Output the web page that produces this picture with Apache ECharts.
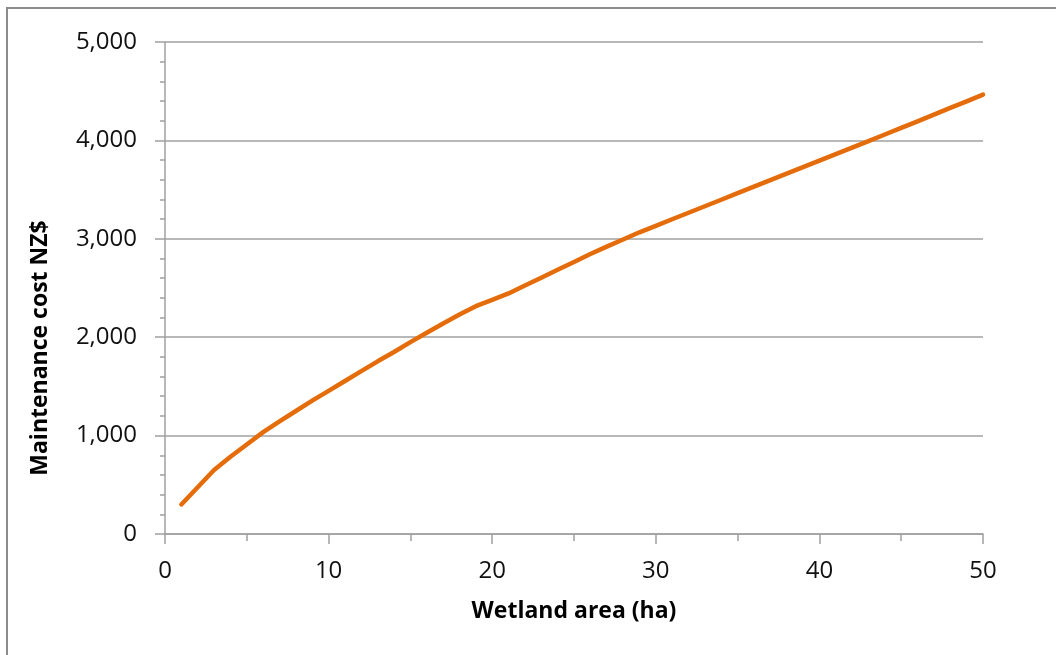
<!DOCTYPE html>
<html>
<head>
<meta charset="utf-8">
<script src="https://cdn.jsdelivr.net/npm/echarts@6/dist/echarts.min.js"></script>
<style>
html,body{margin:0;padding:0;background:#fff;}
#chart{width:1056px;height:655px;}
</style>
</head>
<body>
<div id="chart"></div>
<script>
const areaHa = [1,2,3,4,5,6,7,8,9,10,11,12,13,14,15,16,17,18,19,20,21,22,23,24,25,26,27,28,29,30,31,32,33,34,35,36,37,38,39,40,41,42,43,44,45,46,47,48,49,50];
const costNZD = [300,475,650,785,910,1035,1145,1250,1355,1455,1555,1655,1755,1850,1950,2045,2140,2230,2315,2380,2445,2525,2605,2685,2765,2845,2920,2993,3066,3132,3199,3265,3331,3397,3464,3530,3596,3662,3728,3795,3861,3927,3993,4060,4127,4194,4262,4330,4397,4465];
const xTitle = 'Wetland area (ha)';
const yTitle = 'Maintenance cost NZ$';

const chart = echarts.init(document.getElementById('chart'), null, {renderer:'canvas'});
const grey = '#A0A0A0';
const font = 'Open Sans';
chart.setOption({
  animation:false,
  backgroundColor:'#ffffff',
  grid:{left:165, right:73, top:42, bottom:121, containLabel:false},
  xAxis:{
    type:'value', min:0, max:50, interval:10,
    name:xTitle, nameLocation:'middle', nameGap:66,
    nameTextStyle:{fontFamily:font, fontWeight:'bold', fontSize:23, color:'#000'},
    axisLine:{show:true, lineStyle:{color:grey, width:1.5}},
    axisTick:{show:true, inside:false, length:10, lineStyle:{color:grey, width:1.5}},
    minorTick:{show:true, splitNumber:2, length:7, lineStyle:{color:grey, width:1.5}},
    axisLabel:{fontFamily:font, fontSize:24, color:'#111', margin:25},
    splitLine:{show:false}
  },
  yAxis:{
    type:'value', min:0, max:5000, interval:1000,
    axisLine:{show:true, lineStyle:{color:grey, width:1.5}},
    axisTick:{show:true, inside:false, length:10, lineStyle:{color:grey, width:1.5}},
    minorTick:{show:true, splitNumber:5, length:5, lineStyle:{color:grey, width:1.5}},
    axisLabel:{fontFamily:font, fontSize:24, color:'#111', margin:28,
      formatter:function(v){return v.toLocaleString('en-US');}},
    splitLine:{show:true, lineStyle:{color:grey, width:1.5}}
  },
  graphic:[
    {type:'rect', shape:{x:7, y:8, width:1200, height:800}, style:{fill:'none', stroke:'#8c8c8c', lineWidth:2}, silent:true},
    {type:'text', x:40, y:348, rotation:Math.PI/2, style:{text:yTitle, fontFamily:font, fontWeight:'bold', fontSize:23, fill:'#000', textAlign:'center', textVerticalAlign:'middle'}}
  ],
  series:[{
    type:'line',
    data:areaHa.map((x,i)=>[x,costNZD[i]]),
    showSymbol:false, symbol:'none',
    smooth:false,
    lineStyle:{color:'#E46C0A', width:4.5, cap:'round', join:'round'}
  }]
});
</script>
</body>
</html>
